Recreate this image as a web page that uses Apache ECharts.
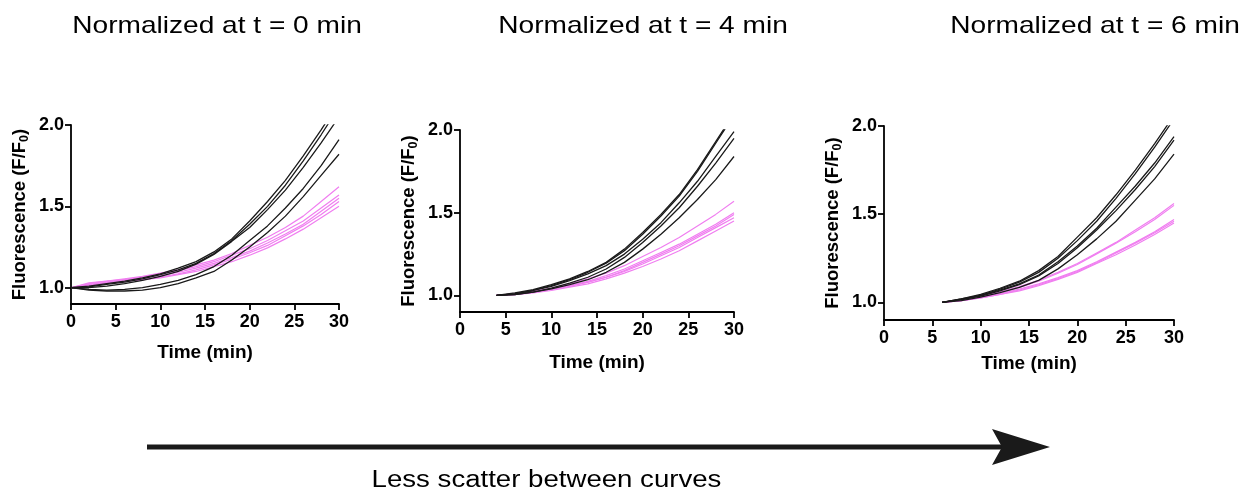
<!DOCTYPE html>
<html>
<head>
<meta charset="utf-8">
<script src="https://cdn.jsdelivr.net/npm/echarts@6.0.0/dist/echarts.min.js"></script>
<style>
html, body { margin: 0; padding: 0; background: #fff; }
#main { width: 1245px; height: 494px; }
</style>
</head>
<body>
<div id="main"></div>
<script>
// time points (min) for each normalisation
var times0 = [0, 2, 4, 6, 8, 10, 12, 14, 16, 18, 20, 22, 24, 26, 28, 30];
var times4 = [4, 6, 8, 10, 12, 14, 16, 18, 20, 22, 24, 26, 28, 30];
var times6 = [6, 8, 10, 12, 14, 16, 18, 20, 22, 24, 26, 28, 30];

var titles = ["Normalized at t = 0 min", "Normalized at t = 4 min", "Normalized at t = 6 min"];
var xTicks = [0, 5, 10, 15, 20, 25, 30];
var yTicks = [1.0, 1.5, 2.0];

// panel 1 : normalized at t = 0
var black0 = [
	[1.00, 1.01, 1.025, 1.04, 1.06, 1.085, 1.12, 1.16, 1.22, 1.30, 1.41, 1.53, 1.66, 1.81, 1.97, 2.14],
	[1.00, 1.005, 1.02, 1.035, 1.055, 1.08, 1.11, 1.15, 1.21, 1.29, 1.39, 1.50, 1.63, 1.78, 1.94, 2.11],
	[1.00, 1.00, 1.01, 1.025, 1.045, 1.07, 1.10, 1.145, 1.205, 1.285, 1.37, 1.48, 1.60, 1.74, 1.89, 2.05],
	[1.00, 0.99, 0.985, 0.99, 1.00, 1.02, 1.045, 1.08, 1.13, 1.20, 1.29, 1.38, 1.49, 1.61, 1.75, 1.91],
	[1.00, 0.985, 0.98, 0.98, 0.985, 1.00, 1.025, 1.06, 1.10, 1.17, 1.25, 1.34, 1.44, 1.56, 1.69, 1.82]
];
var pink0 = [
	[1.00, 1.03, 1.04, 1.055, 1.07, 1.09, 1.11, 1.14, 1.17, 1.21, 1.26, 1.31, 1.37, 1.44, 1.53, 1.62],
	[1.00, 1.02, 1.035, 1.05, 1.065, 1.085, 1.105, 1.13, 1.16, 1.20, 1.24, 1.29, 1.35, 1.41, 1.49, 1.57],
	[1.00, 1.025, 1.04, 1.05, 1.06, 1.075, 1.095, 1.12, 1.15, 1.185, 1.225, 1.275, 1.33, 1.39, 1.47, 1.55],
	[1.00, 1.015, 1.03, 1.04, 1.05, 1.065, 1.085, 1.11, 1.14, 1.175, 1.215, 1.26, 1.32, 1.38, 1.45, 1.53],
	[1.00, 1.02, 1.03, 1.04, 1.05, 1.06, 1.08, 1.10, 1.13, 1.16, 1.20, 1.245, 1.30, 1.36, 1.43, 1.50]
];

// panel 2 : normalized at t = 4
var black4 = [
	[1.00, 1.015, 1.035, 1.065, 1.10, 1.145, 1.20, 1.28, 1.38, 1.49, 1.61, 1.76, 1.93, 2.10],
	[1.00, 1.01, 1.03, 1.06, 1.095, 1.14, 1.195, 1.27, 1.37, 1.48, 1.60, 1.75, 1.92, 2.09],
	[1.00, 1.01, 1.03, 1.055, 1.09, 1.13, 1.18, 1.25, 1.34, 1.44, 1.56, 1.69, 1.84, 1.99],
	[1.00, 1.005, 1.02, 1.045, 1.075, 1.11, 1.16, 1.23, 1.32, 1.42, 1.53, 1.66, 1.80, 1.95],
	[1.00, 1.005, 1.02, 1.04, 1.065, 1.095, 1.14, 1.20, 1.28, 1.37, 1.47, 1.58, 1.70, 1.84]
];
var pink4 = [
	[1.00, 1.01, 1.025, 1.045, 1.07, 1.10, 1.135, 1.18, 1.235, 1.29, 1.35, 1.42, 1.49, 1.57],
	[1.00, 1.01, 1.02, 1.04, 1.06, 1.085, 1.12, 1.16, 1.21, 1.26, 1.31, 1.37, 1.43, 1.50],
	[1.00, 1.01, 1.02, 1.04, 1.06, 1.08, 1.11, 1.15, 1.20, 1.25, 1.30, 1.36, 1.42, 1.49],
	[1.00, 1.005, 1.02, 1.035, 1.055, 1.08, 1.11, 1.145, 1.19, 1.24, 1.29, 1.35, 1.41, 1.47],
	[1.00, 1.005, 1.015, 1.03, 1.05, 1.07, 1.10, 1.135, 1.175, 1.22, 1.27, 1.33, 1.39, 1.45]
];

// panel 3 : normalized at t = 6
var black6 = [
	[1.00, 1.02, 1.045, 1.08, 1.12, 1.18, 1.26, 1.37, 1.48, 1.61, 1.75, 1.90, 2.06],
	[1.00, 1.02, 1.04, 1.075, 1.115, 1.17, 1.25, 1.35, 1.46, 1.59, 1.73, 1.88, 2.04],
	[1.00, 1.015, 1.04, 1.07, 1.105, 1.155, 1.23, 1.32, 1.42, 1.54, 1.66, 1.79, 1.94],
	[1.00, 1.015, 1.035, 1.065, 1.10, 1.15, 1.22, 1.31, 1.41, 1.52, 1.64, 1.77, 1.92],
	[1.00, 1.01, 1.03, 1.055, 1.085, 1.125, 1.19, 1.27, 1.36, 1.46, 1.58, 1.70, 1.84]
];
var pink6 = [
	[1.00, 1.015, 1.035, 1.06, 1.09, 1.125, 1.17, 1.22, 1.28, 1.34, 1.41, 1.48, 1.56],
	[1.00, 1.015, 1.03, 1.055, 1.085, 1.12, 1.165, 1.215, 1.275, 1.335, 1.40, 1.47, 1.55],
	[1.00, 1.01, 1.03, 1.05, 1.075, 1.105, 1.14, 1.18, 1.23, 1.285, 1.34, 1.40, 1.47],
	[1.00, 1.01, 1.025, 1.045, 1.07, 1.10, 1.135, 1.175, 1.225, 1.28, 1.335, 1.395, 1.46],
	[1.00, 1.01, 1.025, 1.045, 1.065, 1.095, 1.13, 1.17, 1.22, 1.27, 1.325, 1.385, 1.45]
];

var FONT = "'Liberation Sans', Arial, Helvetica, sans-serif";

var cc = echarts.init(document.getElementById("main"), null, { renderer: "canvas" });

var grids = [
	{ left: 71, top: 125, width: 268, height: 179 },
	{ left: 460, top: 130, width: 274, height: 182 },
	{ left: 884, top: 126, width: 290, height: 194 }
];
var xNameGaps = [39, 41, 34];

var xAxes = [], yAxes = [], series = [];

for (var i = 0; i < 3; i++) {
	xAxes.push({
		type: "value",
		gridIndex: i,
		min: 0,
		max: 30,
		interval: 5,
		name: "Time (min)",
		nameLocation: "middle",
		nameGap: xNameGaps[i],
		nameTextStyle: { fontFamily: FONT, fontWeight: "bold", fontSize: 19, color: "#000" },
		axisLine: { onZero: false, lineStyle: { color: "#000", width: 1.8 } },
		axisTick: { show: true, inside: false, length: 6, lineStyle: { color: "#000", width: 1.8 } },
		axisLabel: { margin: 9, fontFamily: FONT, fontWeight: "bold", fontSize: 18, color: "#000" },
		splitLine: { show: false }
	});
	yAxes.push({
		type: "value",
		gridIndex: i,
		min: 0.9,
		max: 2.0,
		name: "{a|Fluorescence (F/F}{b|0}{a|)}",
		nameLocation: "middle",
		nameRotate: 90,
		nameGap: 40,
		nameTextStyle: {
			rich: {
				a: { fontFamily: FONT, fontWeight: "bold", fontSize: 18.5, color: "#000", lineHeight: 22 },
				b: { fontFamily: FONT, fontWeight: "bold", fontSize: 12.5, color: "#000", lineHeight: 12, verticalAlign: "bottom" }
			}
		},
		axisLine: { show: true, onZero: false, lineStyle: { color: "#000", width: 1.8 } },
		axisTick: { show: true, inside: false, length: 6, customValues: yTicks, lineStyle: { color: "#000", width: 1.8 } },
		axisLabel: {
			margin: 7,
			customValues: yTicks,
			fontFamily: FONT, fontWeight: "bold", fontSize: 18, color: "#000",
			formatter: function (v) { return Number(v).toFixed(1); }
		},
		splitLine: { show: false }
	});
}

function addLines (list, times, idx, color, width) {
	list.forEach(function (vals) {
		series.push({
			type: "line",
			xAxisIndex: idx,
			yAxisIndex: idx,
			symbol: "none",
			clip: true,
			silent: true,
			data: times.map(function (t, k) { return [t, vals[k]]; }),
			lineStyle: { color: color, width: width }
		});
	});
}

var PINK = "#f07ef0";
var BLACK = "#1a1a1a";
addLines(pink0, times0, 0, PINK, 1.2);
addLines(black0, times0, 0, BLACK, 1.3);
addLines(pink4, times4, 1, PINK, 1.2);
addLines(black4, times4, 1, BLACK, 1.3);
addLines(pink6, times6, 2, PINK, 1.2);
addLines(black6, times6, 2, BLACK, 1.3);

// titles and the arrow underneath
var titleX = [217, 643, 1095];
var graphics = titles.map(function (t, k) {
	return {
		type: "text",
		x: titleX[k],
		y: 26.5,
		scaleX: 1.17,
		style: { text: t, x: 0, y: 0, align: "center", verticalAlign: "middle", font: "24px " + FONT, fill: "#000" }
	};
});
graphics.push({
	type: "line",
	shape: { x1: 147, y1: 447, x2: 1005, y2: 447 },
	style: { stroke: "#1a1a1a", lineWidth: 5 }
});
graphics.push({
	type: "polygon",
	shape: { points: [[1050, 447], [992, 429], [1002, 447], [992, 465]] },
	style: { fill: "#1a1a1a" }
});
graphics.push({
	type: "text",
	x: 546.5,
	y: 481,
	scaleX: 1.2,
	style: { text: "Less scatter between curves", x: 0, y: 0, align: "center", verticalAlign: "middle", font: "23px " + FONT, fill: "#000" }
});

var op = {
	animation: false,
	backgroundColor: "#fff",
	grid: grids,
	xAxis: xAxes,
	yAxis: yAxes,
	series: series,
	graphic: graphics
};

cc.setOption(op);
</script>
</body>
</html>
